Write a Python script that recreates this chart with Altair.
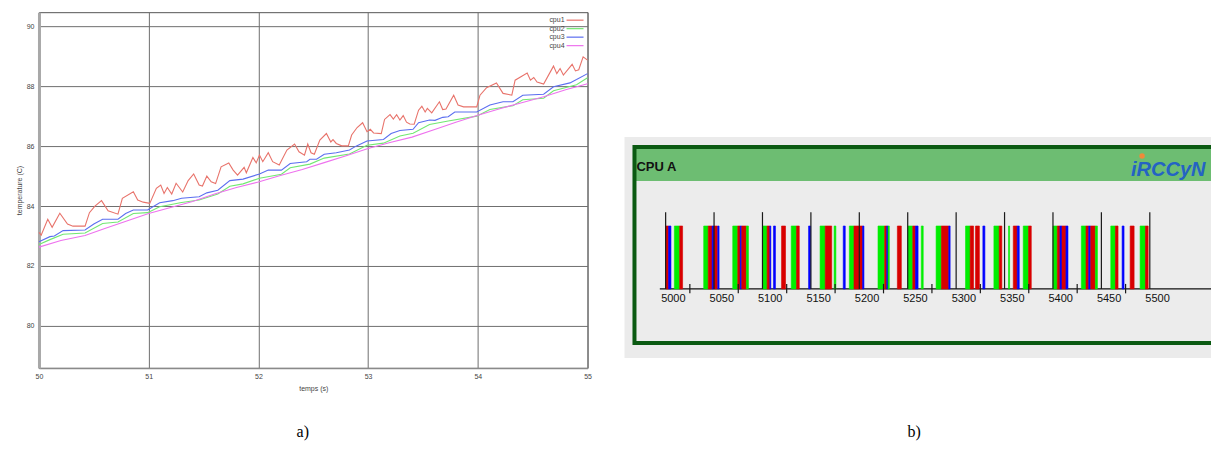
import altair as alt
import pandas as pd

# ---------------- panel a) : CPU temperatures ----------------
series_names = ["cpu1", "cpu2", "cpu3", "cpu4"]
series_colors = ["#e8736b", "#72e872", "#5b6ef0", "#ee72ee"]

cpu1_t = [50.00, 50.02, 50.08, 50.12, 50.19, 50.26, 50.31, 50.42, 50.46, 50.51, 50.57, 50.63, 50.72,
          50.76, 50.86, 50.90, 50.95, 51.01, 51.07, 51.11, 51.14, 51.17, 51.21, 51.25, 51.31, 51.36,
          51.41, 51.46, 51.49, 51.53, 51.57, 51.61, 51.66, 51.73, 51.77, 51.81, 51.87, 51.89, 51.95,
          51.98, 52.01, 52.04, 52.09, 52.13, 52.19, 52.26, 52.33, 52.37, 52.42, 52.45, 52.48, 52.51,
          52.56, 52.62, 52.66, 52.68, 52.71, 52.76, 52.82, 52.85, 52.90, 52.95, 52.99, 53.02, 53.05,
          53.12, 53.15, 53.20, 53.23, 53.26, 53.29, 53.32, 53.35, 53.38, 53.42, 53.46, 53.49, 53.52,
          53.54, 53.58, 53.65, 53.68, 53.71, 53.78, 53.82, 53.87, 53.99, 54.02, 54.08, 54.17, 54.23,
          54.31, 54.34, 54.45, 54.48, 54.51, 54.54, 54.60, 54.69, 54.72, 54.75, 54.78, 54.86, 54.89,
          54.92, 54.96, 55.00]
cpu1_v = [83.12, 83.03, 83.56, 83.29, 83.76, 83.40, 83.33, 83.33, 83.78, 84.00, 84.18, 83.84, 83.73,
          84.26, 84.48, 84.20, 84.13, 84.09, 84.59, 84.70, 84.42, 84.62, 84.40, 84.76, 84.47, 84.85,
          85.07, 84.70, 84.67, 85.00, 84.81, 84.75, 85.31, 85.44, 85.20, 85.03, 85.29, 85.11, 85.62,
          85.44, 85.70, 85.48, 85.78, 85.48, 85.37, 85.87, 86.07, 85.81, 85.70, 86.07, 85.78, 85.73,
          86.20, 86.42, 86.14, 86.22, 86.09, 86.01, 86.01, 86.37, 86.62, 86.78, 86.48, 86.56, 86.44,
          86.42, 86.89, 87.05, 86.90, 87.05, 86.87, 87.02, 86.80, 86.74, 86.73, 87.20, 87.33, 87.14,
          87.26, 87.11, 87.48, 87.22, 87.24, 87.70, 87.37, 87.31, 87.31, 87.70, 87.95, 88.11, 87.76,
          87.70, 88.20, 88.44, 88.20, 88.29, 88.14, 88.07, 88.67, 88.42, 88.59, 88.37, 88.73, 88.51,
          88.55, 88.98, 88.87]

cpu2_t = [50.00, 50.10, 50.22, 50.42, 50.58, 50.72, 50.86, 50.99, 51.10, 51.30, 51.46, 51.63, 51.74,
          51.86, 52.01, 52.21, 52.29, 52.47, 52.60, 52.83, 52.99, 53.14, 53.29, 53.41, 53.56, 53.73,
          53.99, 54.11, 54.32, 54.41, 54.60, 54.69, 54.90, 55.00]
cpu2_v = [82.72, 82.88, 83.06, 83.10, 83.42, 83.47, 83.75, 83.78, 83.98, 84.12, 84.20, 84.40, 84.66,
          84.74, 84.93, 85.06, 85.28, 85.40, 85.60, 85.74, 86.03, 86.10, 86.34, 86.43, 86.72, 86.84,
          87.00, 87.22, 87.35, 87.55, 87.60, 87.85, 88.05, 88.28]

cpu3_t = [50.00, 50.10, 50.14, 50.22, 50.42, 50.50, 50.58, 50.72, 50.79, 50.86, 50.99, 51.10, 51.22,
          51.30, 51.46, 51.53, 51.63, 51.74, 51.86, 52.01, 52.09, 52.21, 52.29, 52.44, 52.47, 52.53,
          52.60, 52.71, 52.83, 52.89, 52.99, 53.14, 53.21, 53.29, 53.41, 53.46, 53.56, 53.61, 53.68,
          53.73, 53.79, 53.99, 54.11, 54.23, 54.32, 54.41, 54.60, 54.69, 54.84, 54.90, 55.00]
cpu3_v = [82.81, 82.98, 83.00, 83.18, 83.20, 83.40, 83.56, 83.56, 83.75, 83.87, 83.87, 84.11, 84.18,
          84.26, 84.31, 84.44, 84.53, 84.85, 84.90, 85.07, 85.20, 85.20, 85.42, 85.48, 85.56, 85.56,
          85.73, 85.78, 85.87, 86.00, 86.17, 86.22, 86.42, 86.52, 86.56, 86.78, 86.87, 86.86, 86.96,
          86.98, 87.14, 87.14, 87.37, 87.48, 87.48, 87.70, 87.73, 87.98, 88.11, 88.22, 88.42]

cpu4_t = [50.0, 50.2, 50.42, 50.6, 50.8, 51.0, 51.2, 51.4, 51.6, 51.8, 52.0, 52.2, 52.4, 52.6, 52.8,
          53.0, 53.2, 53.4, 53.6, 53.8, 54.0, 54.2, 54.4, 54.6, 54.8, 55.0]
cpu4_v = [82.63, 82.85, 83.02, 83.25, 83.50, 83.75, 83.95, 84.15, 84.40, 84.62, 84.80, 85.02, 85.22,
          85.45, 85.68, 85.92, 86.12, 86.30, 86.55, 86.80, 87.03, 87.25, 87.45, 87.65, 87.88, 88.08]

x_ticks_a = [50, 51, 52, 53, 54, 55]
y_ticks_a = [80, 82, 84, 86, 88, 90]

rows = []
for name, ts, vs in zip(series_names, [cpu1_t, cpu2_t, cpu3_t, cpu4_t], [cpu1_v, cpu2_v, cpu3_v, cpu4_v]):
    for t, v in zip(ts, vs):
        rows.append({"cpu": name, "temps": t, "temp": v})
df_a = pd.DataFrame(rows)

# ---------------- panel b) : CPU A schedule ----------------
task_names = ["t1", "t2", "t3"]
task_colors = ["#00ee00", "#d80000", "#0000ff"]

bar_start = [5000, 5003, 5009, 5014.5, 5039.3, 5044, 5048, 5050, 5053.8, 5069.3, 5074.5, 5077, 5078.6,
             5083.4, 5100, 5104.8, 5107.6, 5111.4, 5119.7, 5129.7, 5135.2, 5147.6, 5159.5, 5164.8,
             5174, 5183.4, 5189.7, 5194.5, 5203.4, 5219.3, 5226.2, 5228.3, 5229.7, 5239.3, 5250.3,
             5255.2, 5258, 5264, 5279.3, 5284.8, 5292.4, 5309.7, 5314.5, 5320, 5327.6, 5339, 5344.5,
             5354.1, 5359, 5363.1, 5369.3, 5374.8, 5400, 5404.5, 5407.2, 5409.3, 5413.4, 5429.3,
             5434.1, 5436.9, 5439, 5443.8, 5459.7, 5464.5, 5471.4, 5479.7, 5490, 5495.5]
bar_end = [5003, 5005.5, 5014.5, 5017.5, 5044, 5048, 5050, 5053.5, 5055.2, 5074.5, 5077, 5078.6, 5083.4,
           5085.5, 5104.8, 5107.6, 5108.6, 5113.4, 5123.8, 5135.2, 5138, 5149.7, 5164.8, 5171.5,
           5175.8, 5185.5, 5194.5, 5203.4, 5204.8, 5226.2, 5228.3, 5229.7, 5231, 5243.4, 5255.2,
           5258, 5260.7, 5266, 5284.8, 5292.4, 5293.8, 5314.5, 5318, 5324, 5329.7, 5344.5, 5347.2,
           5355.2, 5363.1, 5365.2, 5374.8, 5377.6, 5404.5, 5407.2, 5409.3, 5413.4, 5415.5, 5434.1,
           5436.9, 5439, 5443.8, 5445.9, 5464.5, 5467.2, 5473.4, 5483.8, 5495.5, 5498.3]
bar_task = ["t2", "t3", "t1", "t2", "t1", "t2", "t3", "t2", "t3", "t1", "t2", "t3", "t2",
            "t1", "t1", "t2", "t3", "t3", "t2", "t1", "t2", "t3", "t1", "t2",
            "t1", "t3", "t1", "t2", "t3", "t1", "t2", "t3", "t1", "t2", "t1",
            "t2", "t3", "t1", "t1", "t2", "t3", "t1", "t2", "t2", "t3", "t1", "t2",
            "t1", "t2", "t3", "t1", "t2", "t1", "t2", "t3", "t2", "t3", "t1",
            "t2", "t3", "t2", "t1", "t1", "t2", "t3", "t2", "t1", "t2"]

major_ticks_b = [5000, 5050, 5100, 5150, 5200, 5250, 5300, 5350, 5400, 5450, 5500]
minor_ticks_b = [5025, 5075, 5125, 5175, 5225, 5275, 5325, 5375, 5425, 5475]

# ---------------- chart a) ----------------
WA, HA = 549, 356
xs_a = alt.Scale(domain=[50, 55], nice=False, zero=False)
ys_a = alt.Scale(domain=[78.6, 90.47], nice=False, zero=False)
small_font = "Liberation Sans"

lines = alt.Chart(df_a).mark_line(strokeWidth=1.1).encode(
    x=alt.X("temps:Q", scale=xs_a,
            axis=alt.Axis(values=x_ticks_a, format="d", grid=True, gridColor="#6e6e6e", gridWidth=1,
                          ticks=False, domainColor="#8a8a8a", domainWidth=1.5, labelFlush=False,
                          labelFont=small_font, labelFontSize=7, labelColor="#444", labelPadding=5,
                          title="temps (s)", titleFont=small_font, titleFontSize=7,
                          titleFontWeight="normal", titleColor="#444", titlePadding=5)),
    y=alt.Y("temp:Q", scale=ys_a,
            axis=alt.Axis(values=y_ticks_a, format="d", grid=True, gridColor="#6e6e6e", gridWidth=1,
                          ticks=False, domainColor="#a8a8a8", domainWidth=3,
                          labelFont=small_font, labelFontSize=7, labelColor="#444", labelPadding=5,
                          title="temperature (C)", titleFont=small_font, titleFontSize=7,
                          titleFontWeight="normal", titleColor="#444", titlePadding=4)),
    color=alt.Color("cpu:N", scale=alt.Scale(domain=series_names, range=series_colors), legend=None),
    detail="cpu:N",
)

one = pd.DataFrame({"k": [0]})
legend_layers = []
for i, (name, col) in enumerate(zip(series_names, series_colors)):
    yy = 8 + 8.5 * i
    legend_layers.append(alt.Chart(one).mark_text(align="right", baseline="middle", fontSize=7,
                                                   font=small_font, color="#444", text=name)
                         .encode(x=alt.value(526), y=alt.value(yy)))
    legend_layers.append(alt.Chart(one).mark_rule(color=col, strokeWidth=1.2)
                         .encode(x=alt.value(528), x2=alt.value(545), y=alt.value(yy)))

label_a = alt.Chart(one).mark_text(text="a)", font="Liberation Serif", fontSize=16, color="#000",
                                   align="center", baseline="alphabetic").encode(
    x=alt.value(264), y=alt.value(425))

chart_a = alt.layer(lines, *legend_layers, label_a).properties(
    width=WA, height=HA, view=alt.ViewBackground(stroke="#555", strokeWidth=1, fill="white"))

# ---------------- chart b) ----------------
WB, HB = 587, 346
xs_b = alt.Scale(domain=[4957.5, 5563.2], nice=False, zero=False)
ys_b = alt.Scale(domain=[-1.0952, 4.3968], nice=False, zero=False)

def frame(x1, x2, y1, y2, col):
    return alt.Chart(one).mark_rect(color=col, strokeWidth=0).encode(
        x=alt.value(x1), x2=alt.value(x2), y=alt.value(y1), y2=alt.value(y2))

bg_outer = frame(0, WB, 125, 346, "#ebebeb")
bg_border = frame(8, WB, 133, 333, "#0b5a12")
bg_header = frame(12, WB, 137, 169, "#6dbd72")
bg_inner = frame(12, WB, 169, 329, "#ececec")

task_scale = alt.Scale(domain=task_names, range=task_colors)
bars_df = pd.DataFrame({"start": bar_start, "end": bar_end, "task": bar_task})
bars = alt.Chart(bars_df).transform_calculate(lo="0", hi="1").mark_rect(
    strokeWidth=0.6, opacity=1, fillOpacity=1, strokeOpacity=1).encode(
    x=alt.X("start:Q", scale=xs_b, axis=None),
    x2="end:Q",
    y=alt.Y("lo:Q", scale=ys_b, axis=None),
    y2="hi:Q",
    fill=alt.Fill("task:N", scale=task_scale, legend=None),
    stroke=alt.Stroke("task:N", scale=task_scale, legend=None),
)

axis_line = alt.Chart(pd.DataFrame({"a": [4994.0], "b": [5563.2], "y": [0.0]})).mark_rule(
    color="#111", strokeWidth=1.2).encode(
    x=alt.X("a:Q", scale=xs_b, axis=None), x2="b:Q", y=alt.Y("y:Q", scale=ys_b, axis=None))

major = alt.Chart(pd.DataFrame({"v": major_ticks_b})).transform_calculate(lo="0", hi="1.22").mark_rule(
    color="#1a1a1a", strokeWidth=1.2).encode(
    x=alt.X("v:Q", scale=xs_b, axis=None), y=alt.Y("lo:Q", scale=ys_b, axis=None), y2="hi:Q")

minor = alt.Chart(pd.DataFrame({"v": minor_ticks_b})).transform_calculate(lo="-0.07", hi="0.08").mark_rule(
    color="#1a1a1a", strokeWidth=1.2).encode(
    x=alt.X("v:Q", scale=xs_b, axis=None), y=alt.Y("lo:Q", scale=ys_b, axis=None), y2="hi:Q")

tick_labels = alt.Chart(pd.DataFrame({"v": major_ticks_b})).transform_calculate(ly="-0.07").mark_text(
    align="left", baseline="top", dx=-4.5, font="Liberation Sans", fontSize=11, color="#111").encode(
    x=alt.X("v:Q", scale=xs_b, axis=None), y=alt.Y("ly:Q", scale=ys_b, axis=None),
    text=alt.Text("v:Q", format="d"))

cpu_title = alt.Chart(one).mark_text(text="CPU A", font="Liberation Sans", fontSize=13, fontWeight="bold",
                                     color="#111", align="left", baseline="alphabetic").encode(
    x=alt.value(12), y=alt.value(159))

logo_text = alt.Chart(one).mark_text(text="iRCCyN", font="Liberation Sans", fontSize=20, fontWeight="bold",
                                     fontStyle="italic", color="#2463c4", align="left",
                                     baseline="alphabetic").encode(x=alt.value(507), y=alt.value(164))
logo_dot = alt.Chart(one).mark_point(filled=True, color="#f08a3a", size=30, opacity=1).encode(
    x=alt.value(518), y=alt.value(144))

label_b = alt.Chart(one).mark_text(text="b)", font="Liberation Serif", fontSize=16, color="#000",
                                   align="center", baseline="alphabetic").encode(
    x=alt.value(290), y=alt.value(425))

chart_b = alt.layer(bg_outer, bg_border, bg_header, bg_inner, axis_line, bars, major, minor,
                    tick_labels, cpu_title, logo_text, logo_dot, label_b).properties(
    width=WB, height=HB, view=alt.ViewBackground(stroke="transparent", fill="white"))

chart = alt.hconcat(chart_a, chart_b, spacing=31).properties(
    padding={"left": 6, "top": 3, "right": 0, "bottom": 0},
    background="white",
)

chart.save("out.html", embed_options={"renderer": "svg", "actions": False})
